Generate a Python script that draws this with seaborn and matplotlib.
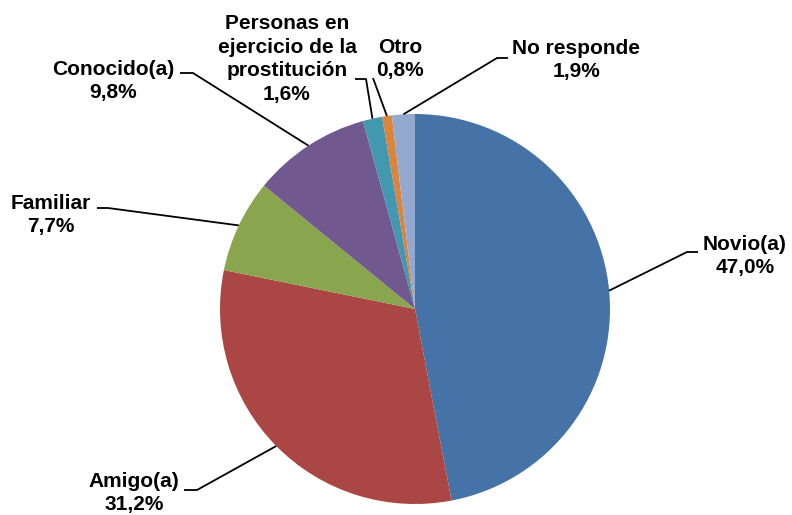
import numpy as np
import matplotlib
matplotlib.use("Agg")
import matplotlib.pyplot as plt
import seaborn as sns

categories = ["Novio(a)", "Amigo(a)", "Familiar", "Conocido(a)",
              "Personas en\nejercicio de la\nprostitución", "Otro", "No responde"]
values = [47.0, 31.2, 7.7, 9.8, 1.6, 0.8, 1.9]
value_labels = ["47,0%", "31,2%", "7,7%", "9,8%", "1,6%", "0,8%", "1,9%"]
colors = ["#4572A7", "#AA4643", "#89A54E", "#71588F", "#4198AF", "#DB843D", "#93A9CF"]

sns.set_style("white")
plt.rcParams['font.family'] = ['Liberation Sans', 'DejaVu Sans']

W, H = 792, 515
fig = plt.figure(figsize=(W / 100, H / 100), dpi=100)
ax = fig.add_axes([0, 0, 1, 1])

cx, cy, r = 415, 309, 195
start = 90
ax.pie(values, colors=colors, startangle=start, counterclock=False,
       center=(cx, H - cy), radius=r, wedgeprops=dict(linewidth=0))
ax.set_xlim(0, W)
ax.set_ylim(0, H)
ax.set_aspect('equal')
ax.axis('off')

# layout of labels: (text center, elbow point, stub end) in pixel coords (y from top)
layout = [
    ((745, 256), (687, 252), (698, 252)),
    ((134, 493), (197, 490), (184, 490)),
    ((51, 215), (108, 208), (97, 208)),
    ((113, 81), (193, 73), (180, 73)),
    ((287, 59), (366, 79), (355, 79)),
    ((400, 59), (373, 78), None),
    ((576, 60), (497, 58), (508, 58)),
]

total = sum(values)
cum = 0.0
for cat, v, vl, (tpos, elbow, stub) in zip(categories, values, value_labels, layout):
    mid = cum + v / 2
    cum += v
    ang = np.deg2rad(start - mid / total * 360)
    ax_x = cx + r * np.cos(ang)
    ax_y = cy - r * np.sin(ang)
    xs = [ax_x, elbow[0]]
    ys = [ax_y, elbow[1]]
    if stub is not None:
        xs.append(stub[0])
        ys.append(stub[1])
    ax.plot(xs, [H - y for y in ys], color="black", lw=1.3, solid_capstyle='butt')
    ax.text(tpos[0], H - tpos[1], f"{cat}\n{vl}", ha="center", va="center",
            fontsize=15, fontweight="bold", linespacing=1.3, color="black")

fig.savefig("out.png", dpi=100)
